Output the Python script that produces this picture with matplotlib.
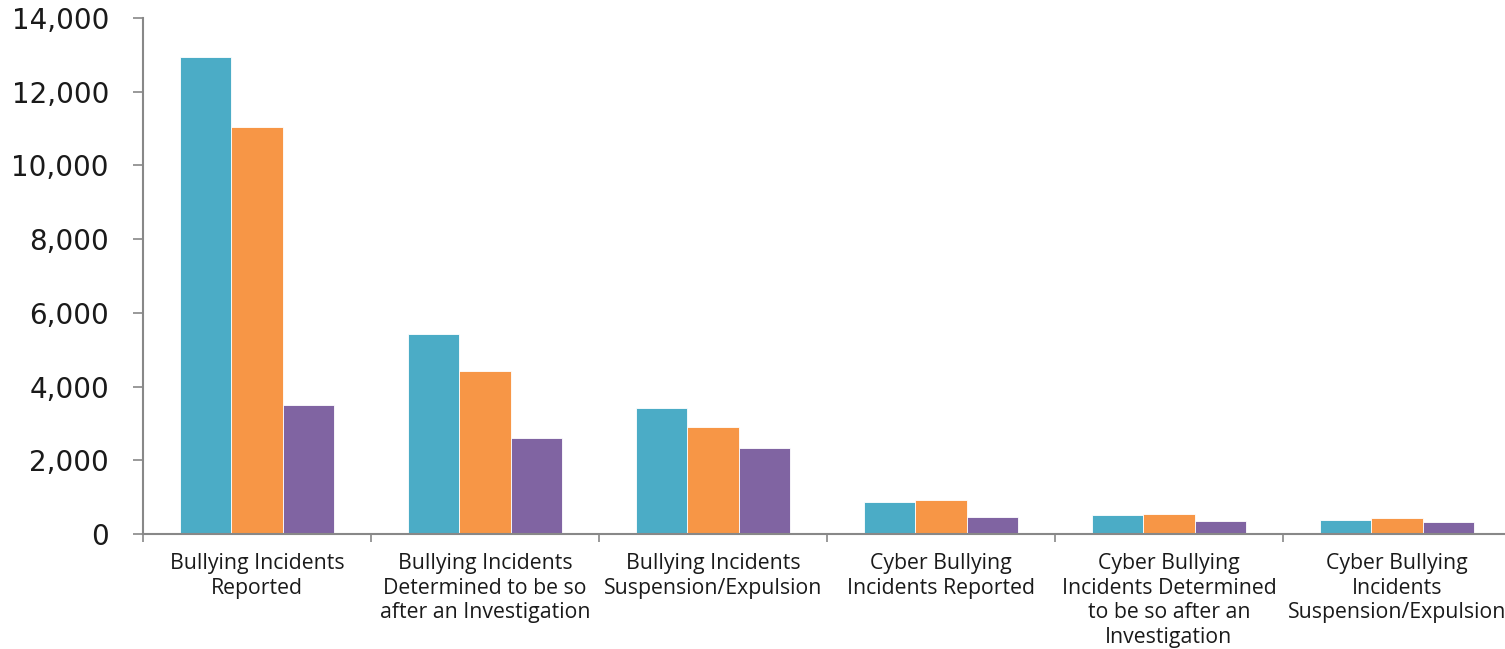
import matplotlib
matplotlib.use("Agg")
import matplotlib.pyplot as plt
import numpy as np
from matplotlib.ticker import FuncFormatter, FixedLocator

categories = [
    "Bullying Incidents\nReported",
    "Bullying Incidents\nDetermined to be so\nafter an Investigation",
    "Bullying Incidents\nSuspension/Expulsion",
    "Cyber Bullying\nIncidents Reported",
    "Cyber Bullying\nIncidents Determined\nto be so after an\nInvestigation",
    "Cyber Bullying\nIncidents\nSuspension/Expulsion",
]
series_a = [12950, 5430, 3430, 870, 505, 380]
series_b = [11050, 4420, 2910, 925, 550, 425]
series_c = [3510, 2615, 2345, 450, 355, 328]
colors = ["#4BACC6", "#F79646", "#8064A2"]

W, H = 1505, 649
fig = plt.figure(figsize=(W / 100, H / 100), dpi=100)
left, right, top, bottom = 143, 1511, 18, 534
ax = fig.add_axes([left / W, 1 - bottom / H, (right - left) / W, (bottom - top) / H])

x = np.arange(len(categories))
bw = 0.224
for i, (vals, c) in enumerate(zip([series_a, series_b, series_c], colors)):
    ax.bar(x + (i - 1) * bw, vals, bw, color=c, edgecolor="white", linewidth=0.6, zorder=2)

ax.set_xlim(-0.5, len(categories) - 0.5)
ax.set_ylim(0, 14000)
ax.set_yticks(np.arange(0, 14001, 2000))
ax.yaxis.set_major_formatter(FuncFormatter(lambda v, p: f"{int(v):,}"))
ax.tick_params(axis="y", labelsize=20, length=7.5, width=1.2, color="#888888", pad=17, labelcolor="#1a1a1a")

ax.set_xticks(x)
ax.set_xticklabels(categories, fontsize=15.3, family="Open Sans", linespacing=1.22, color="#1a1a1a")
ax.tick_params(axis="x", which="major", length=0, pad=14)
ax.xaxis.set_minor_locator(FixedLocator(np.arange(-0.5, len(categories), 1.0)))
ax.tick_params(axis="x", which="minor", length=5.5, width=1.2, color="#888888")

for s in ["top", "right"]:
    ax.spines[s].set_visible(False)
for s in ["left", "bottom"]:
    ax.spines[s].set_color("#888888")
    ax.spines[s].set_linewidth(1.5)

fig.savefig("out.png", dpi=100)
